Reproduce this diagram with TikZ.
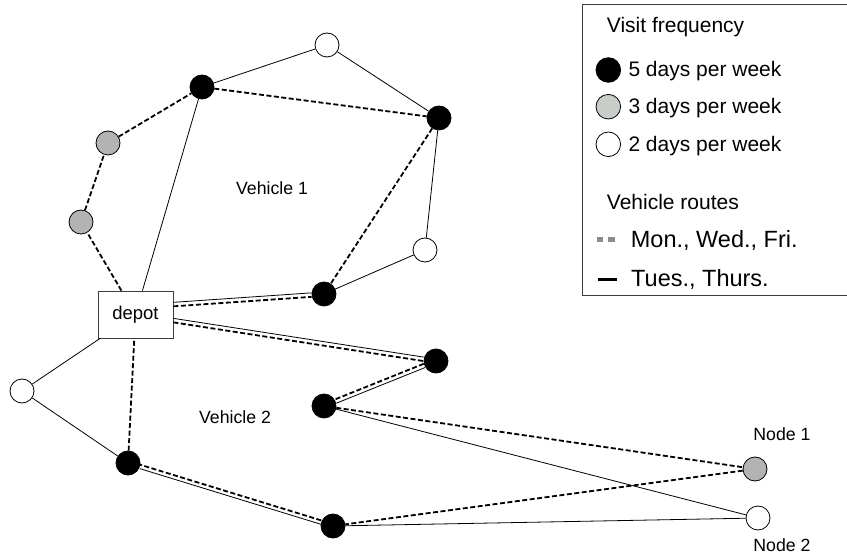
\documentclass[tikz,border=0pt]{standalone}
\usepackage{fontspec}
\setmainfont{Liberation Sans}
\definecolor{nodegray}{RGB}{179,179,179}
\definecolor{leggray}{RGB}{200,205,201}
\definecolor{dashgray}{RGB}{140,140,140}
\definecolor{boxline}{RGB}{60,60,60}
\begin{document}
\begin{tikzpicture}[x=1pt,y=-1pt,
  stop/.style={circle,draw=black,line width=0.8pt,minimum size=24pt,inner sep=0pt},
  five/.style={stop,fill=black},
  three/.style={stop,fill=nodegray},
  two/.style={stop,fill=white},
  tt/.style={line width=0.8pt,black},
  mwf/.style={line width=1.8pt,black,dash pattern=on 5pt off 2.5pt},
  lbl/.style={font=\fontsize{17.7}{20}\selectfont,inner sep=0pt},
  legtxt/.style={font=\fontsize{21}{24}\selectfont,inner sep=0pt,anchor=base west},
  legbig/.style={font=\fontsize{23.5}{26}\selectfont,inner sep=0pt,anchor=base west},
]
\useasboundingbox (0,0) rectangle (847,556);

% ---------- nodes ----------
\node[draw=boxline,fill=white,line width=0.8pt,minimum width=75pt,minimum height=47pt,inner sep=0pt,
      font=\fontsize{18.5}{20}\selectfont] (depot) at (135.5,314.5) {depot};

\node[two]   (W1) at (327,45)  {};
\node[five]  (B1) at (202,87)  {};
\node[five]  (B2) at (439,118) {};
\node[three] (G1) at (108,143) {};
\node[three] (G2) at (81,222)  {};
\node[two]   (W2) at (425,250) {};
\node[five]  (B3) at (324,294) {};
\node[five]  (B4) at (436,361) {};
\node[five]  (B5) at (324,406) {};
\node[two]   (W3) at (22,391)  {};
\node[five]  (B6) at (128,463) {};
\node[five]  (B7) at (333,526) {};
\node[three] (G3) at (755,469) {};
\node[two]   (W4) at (758,518) {};

% ---------- labels ----------
\node[lbl] (v1) at (272,188) {Vehicle 1};
\node[lbl] (v2) at (235,417) {Vehicle 2};
\node[lbl] (n1) at (782,434.5) {Node 1};
\node[lbl] (n2) at (782,545.5) {Node 2};

% ---------- Vehicle 1 routes ----------
\draw[mwf] (depot) -- (G2);
\draw[mwf] (G2) -- (G1);
\draw[mwf] (G1) -- (B1);
\draw[mwf] (B1) -- (B2);
\draw[mwf] (B2) -- (B3);
\draw[mwf,transform canvas={yshift=-2pt}] (depot.15) -- (B3);

\draw[tt] (depot) -- (B1);
\draw[tt] (B1) -- (W1);
\draw[tt] (W1) -- (B2);
\draw[tt] (B2) -- (W2);
\draw[tt] (W2) -- (B3);
\draw[tt,transform canvas={yshift=2pt}] (depot.15) -- (B3);

% ---------- Vehicle 2 routes ----------
\draw[mwf,transform canvas={yshift=-2pt}] (depot) -- (B4);
\draw[mwf,transform canvas={shift={(-0.74pt,1.86pt)}}] (B4) -- (B5);
\draw[mwf] (B5) -- (G3);
\draw[mwf] (G3) -- (B7);
\draw[mwf,transform canvas={yshift=2pt}] (B7) -- (B6);
\draw[mwf] (B6) -- (depot);

\draw[tt,transform canvas={yshift=2pt}] (depot) -- (B4);
\draw[tt,transform canvas={shift={(0.74pt,-1.86pt)}}] (B4) -- (B5);
\draw[tt] (B5) -- (W4);
\draw[tt] (W4) -- (B7);
\draw[tt,transform canvas={yshift=-2pt}] (B7) -- (B6);
\draw[tt] (B6) -- (W3);
\draw[tt] (W3) -- (depot);

% ---------- legend ----------
\draw[boxline,line width=0.8pt] (582,4) rectangle (870,295);
\node[legtxt] (lvf) at (606.7,33) {Visit frequency};
\node[five,minimum size=24.6pt] (l5) at (608.3,70) {};
\node[stop,fill=leggray,minimum size=24.6pt] (l3) at (608.3,106.7) {};
\node[two,minimum size=24.6pt] (l2) at (608.3,144.3) {};
\node[legtxt] (t5) at (628.3,77) {5 days per week};
\node[legtxt] (t3) at (628.3,113.8) {3 days per week};
\node[legtxt] (t2) at (628.3,151.3) {2 days per week};
\node[legtxt] (lvr) at (606.7,210) {Vehicle routes};
\coordinate (ds1) at (596.7,240);
\coordinate (ds2) at (616,240);
\draw[dashgray,line width=5pt,dash pattern=on 6.7pt off 5pt] (ds1) -- (ds2);
\node[legbig] (tm) at (630.7,247.5) {Mon., Wed., Fri.};
\coordinate (ss1) at (597.7,279.3);
\coordinate (ss2) at (616.5,279.3);
\draw[black,line width=3pt] (ss1) -- (ss2);
\node[legbig] (tt) at (631,287) {Tues., Thurs.};
\end{tikzpicture}
\end{document}
